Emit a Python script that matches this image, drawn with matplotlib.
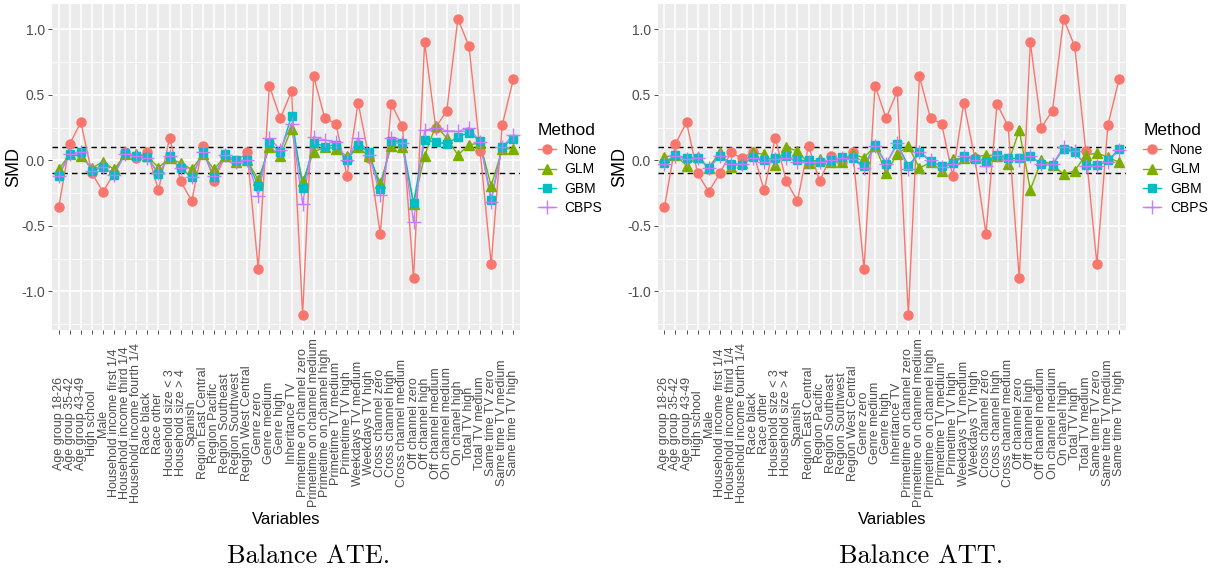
import matplotlib
matplotlib.use("Agg")
import matplotlib.pyplot as plt
from matplotlib.lines import Line2D
from matplotlib.ticker import FixedLocator

plt.rcParams["font.family"] = ["Liberation Sans", "DejaVu Sans"]
plt.rcParams["axes.unicode_minus"] = False

variables = [
    "Age group 18-26", "Age group 35-42", "Age group 43-49", "High school", "Male",
    "Household income first 1/4", "Household income third 1/4", "Household income fourth 1/4",
    "Race black", "Race other", "Household size < 3", "Household size > 4", "Spanish",
    "Region East Central", "Region Pacific", "Region Southeast", "Region Southwest",
    "Region West Central", "Genre zero", "Genre medium", "Genre high", "Inheritance TV",
    "Primetime on channel zero", "Primetime on channel medium", "Primetime on channel high",
    "Primetime TV medium", "Primetime TV high", "Weekdays TV medium", "Weekdays TV high",
    "Cross channel zero", "Cross channel high", "Cross channel medium", "Off channel zero",
    "Off channel high", "Off channel medium", "On channel medium", "On chanel high",
    "Total TV high", "Total TV medium", "Same time TV zero", "Same time TV medium",
    "Same time TV high",
]

# unadjusted SMD (same in both panels)
smd_none = [
    -0.36, 0.125, 0.29, -0.10, -0.24, -0.10, 0.06, 0.015, 0.066, -0.23, 0.17, -0.16, -0.31,
    0.11, -0.16, 0.03, -0.01, 0.06, -0.83, 0.57, 0.32, 0.53, -1.18, 0.64, 0.32, 0.28, -0.12,
    0.44, 0.015, -0.56, 0.43, 0.26, -0.90, 0.90, 0.25, 0.38, 1.08, 0.87, 0.074, -0.79, 0.27,
    0.62,
]

# ATE weights
ate_glm = [
    -0.07, 0.045, 0.03, -0.06, -0.01, -0.07, 0.045, 0.045, 0.03, -0.055, 0.015, -0.02, -0.07,
    0.045, -0.07, 0.03, -0.01, 0.0, -0.15, 0.10, 0.035, 0.24, -0.16, 0.065, 0.10, 0.09, 0.03,
    0.10, 0.03, -0.175, 0.11, 0.10, -0.33, 0.035, 0.265, 0.17, 0.04, 0.12, 0.13, -0.195, 0.085,
    0.09,
]
ate_gbm = [
    -0.12, 0.05, 0.065, -0.08, -0.05, -0.11, 0.055, 0.03, 0.025, -0.105, 0.03, -0.06, -0.13,
    0.065, -0.125, 0.045, 0.0, 0.0, -0.195, 0.13, 0.065, 0.34, -0.215, 0.135, 0.105, 0.12, 0.0,
    0.115, 0.06, -0.22, 0.15, 0.135, -0.325, 0.155, 0.14, 0.125, 0.18, 0.21, 0.15, -0.30, 0.105,
    0.165,
]
ate_cbps = [
    -0.12, 0.05, 0.065, -0.08, -0.05, -0.11, 0.05, 0.03, 0.02, -0.10, 0.03, -0.06, -0.13, 0.06,
    -0.12, 0.04, -0.01, 0.0, -0.27, 0.17, 0.08, 0.28, -0.33, 0.18, 0.155, 0.14, 0.0, 0.17, 0.04,
    -0.265, 0.17, 0.135, -0.47, 0.23, 0.245, 0.225, 0.22, 0.25, 0.14, -0.315, 0.105, 0.19,
]

# ATT weights
att_glm = [
    0.025, 0.04, -0.04, 0.025, -0.055, 0.06, -0.05, -0.02, 0.06, 0.045, -0.035, 0.10, 0.07,
    -0.02, 0.01, -0.01, -0.015, 0.045, 0.02, 0.11, -0.10, 0.05, 0.11, -0.06, -0.015, -0.08,
    0.01, 0.015, 0.025, 0.04, 0.035, -0.025, 0.23, -0.225, 0.0, -0.035, -0.105, -0.08, 0.04,
    0.055, 0.025, -0.015,
]
att_gbm = [
    -0.02, 0.04, 0.015, 0.02, -0.055, 0.035, -0.025, -0.035, 0.025, 0.0, 0.015, 0.03, 0.0, 0.0,
    -0.015, 0.0, 0.025, 0.015, -0.045, 0.12, -0.025, 0.125, -0.04, 0.06, -0.005, -0.045, -0.02,
    0.03, 0.01, -0.01, 0.04, 0.015, 0.015, 0.035, -0.03, -0.035, 0.09, 0.06, -0.035, -0.035, 0.0,
    0.085,
]
att_cbps = [
    -0.03, 0.03, 0.01, 0.02, -0.06, 0.03, -0.03, -0.03, 0.02, -0.01, 0.01, 0.02, -0.01, -0.01,
    -0.01, 0.0, 0.02, 0.01, -0.06, 0.11, -0.03, 0.13, -0.07, 0.065, 0.0, -0.05, -0.03, 0.03, 0.0,
    -0.04, 0.04, 0.0, 0.0, 0.03, -0.03, -0.03, 0.10, 0.07, -0.04, -0.04, -0.01, 0.08,
]

methods = ["None", "GLM", "GBM", "CBPS"]
colors = ["#F8766D", "#7CAE00", "#00BFC4", "#C77CFF"]
markers = ["o", "^", "s", "+"]
msizes = [6.5, 7, 6, 10]

# caption, series, axes left (px), caption centre (px)
panels = [
    ("Balance ATE.", [smd_none, ate_glm, ate_gbm, ate_cbps], 52, 309),
    ("Balance ATT.", [smd_none, att_glm, att_gbm, att_cbps], 657.7, 921),
]

W, H = 1217, 576
fig = plt.figure(figsize=(W / 100, H / 100), dpi=100)

x = list(range(len(variables)))
for caption, series, left_px, cap_x in panels:
    ax = fig.add_axes([left_px / W, 1 - 330 / H, 468 / W, 326 / H])
    ax.set_facecolor("#EBEBEB")
    for s in ax.spines.values():
        s.set_visible(False)

    ax.set_xlim(-0.6, len(variables) - 0.4)
    ax.set_ylim(-1.295, 1.193)
    ax.yaxis.set_major_locator(FixedLocator([-1.0, -0.5, 0.0, 0.5, 1.0]))
    ax.yaxis.set_minor_locator(FixedLocator([-1.25, -0.75, -0.25, 0.25, 0.75]))
    ax.set_yticklabels(["-1.0", "-0.5", "0.0", "0.5", "1.0"])
    ax.grid(which="major", color="white", lw=1.1)
    ax.grid(which="minor", axis="y", color="white", lw=0.55)
    ax.set_axisbelow(True)

    ax.set_xticks(x)
    ax.set_xticklabels(variables, rotation=90, va="center", ha="center")
    ax.tick_params(axis="x", length=3, width=0.6, color="#333333", pad=64,
                   labelsize=9, labelcolor="#4D4D4D")
    ax.tick_params(axis="y", which="major", length=3, width=0.6, color="#333333",
                   pad=2, labelsize=10, labelcolor="#4D4D4D")
    ax.tick_params(axis="y", which="minor", length=0)

    for yv in (0.1, -0.1):
        ax.axhline(yv, color="black", ls=(0, (4, 3)), lw=1.0, zorder=2)

    for vals, c in zip(series, colors):
        ax.plot(x, vals, color=c, lw=1.0, zorder=3)
    for vals, c, m, ms in zip(series, colors, markers, msizes):
        ax.plot(x, vals, ls="none", marker=m, color=c, ms=ms, mew=1.0, zorder=4)

    ax.set_ylabel("SMD", fontsize=13, labelpad=-1)
    ax.set_xlabel("Variables", fontsize=12, labelpad=3)

    handles = [Line2D([0], [0], color=c, marker=m, ms=ms, lw=1.0, mew=1.0)
               for c, m, ms in zip(colors, markers, msizes)]
    leg = ax.legend(handles, methods, title="Method", loc="upper left",
                    bbox_to_anchor=(1.017, 0.665), frameon=False, fontsize=10,
                    title_fontsize=12.5, handlelength=1.3, labelspacing=0.38,
                    handletextpad=0.6, alignment="left", borderpad=0.2)

    fig.text(cap_x / W, 1 - 556 / H, caption, family="cmr10", fontsize=19,
             ha="center", va="center")

fig.savefig("out.png", dpi=100)
